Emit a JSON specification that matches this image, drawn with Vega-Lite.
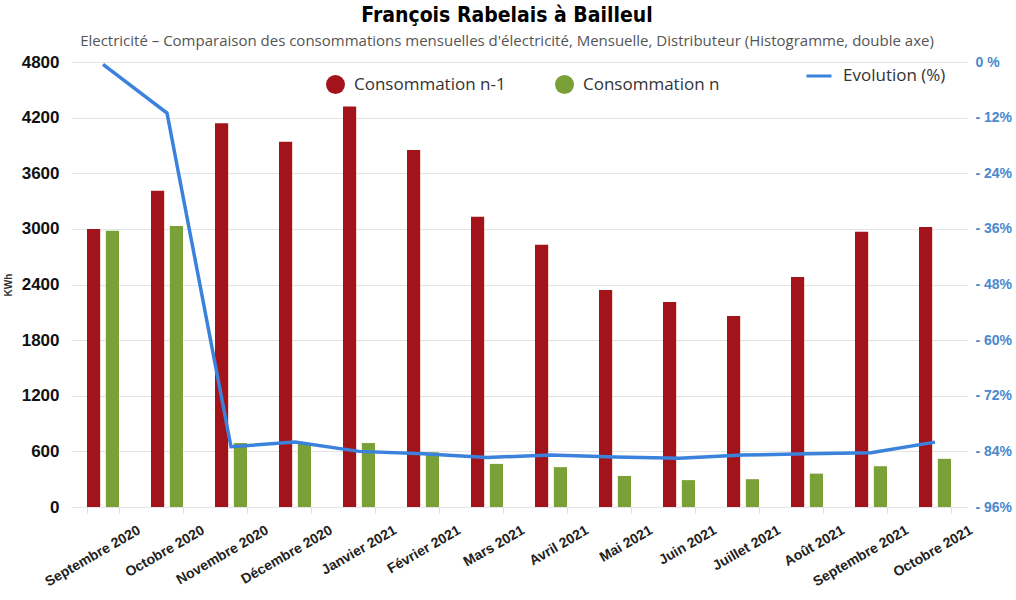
{
  "$schema": "https://vega.github.io/schema/vega-lite/v6.json",
  "width": 896,
  "height": 445,
  "autosize": "none",
  "padding": {"left": 71, "top": 62, "right": 49, "bottom": 93},
  "background": "white",
  "title": {
    "text": "François Rabelais à Bailleul",
    "subtitle": "Electricité – Comparaison des consommations mensuelles d'électricité, Mensuelle, Distributeur (Histogramme, double axe)",
    "anchor": "middle",
    "dx": -12,
    "font": "DejaVu Sans Condensed",
    "fontSize": 21,
    "fontWeight": "bold",
    "color": "#000000",
    "subtitleFont": "Open Sans",
    "subtitleFontSize": 15,
    "subtitleColor": "#555555",
    "subtitlePadding": 8,
    "offset": 4
  },
  "data": {
    "values": [
      {"mois": "Septembre 2020", "n1": 3000, "n": 2980, "evo": -0.5},
      {"mois": "Octobre 2020", "n1": 3410, "n": 3030, "evo": -11},
      {"mois": "Novembre 2020", "n1": 4140, "n": 690, "evo": -83},
      {"mois": "Décembre 2020", "n1": 3940, "n": 680, "evo": -82},
      {"mois": "Janvier 2021", "n1": 4320, "n": 690, "evo": -84},
      {"mois": "Février 2021", "n1": 3850, "n": 590, "evo": -84.5},
      {"mois": "Mars 2021", "n1": 3130, "n": 465, "evo": -85.3},
      {"mois": "Avril 2021", "n1": 2830, "n": 430, "evo": -84.8},
      {"mois": "Mai 2021", "n1": 2340, "n": 335, "evo": -85.2},
      {"mois": "Juin 2021", "n1": 2210, "n": 290, "evo": -85.5},
      {"mois": "Juillet 2021", "n1": 2060, "n": 300, "evo": -84.8},
      {"mois": "Août 2021", "n1": 2480, "n": 360, "evo": -84.5},
      {"mois": "Septembre 2021", "n1": 2970, "n": 440, "evo": -84.3},
      {"mois": "Octobre 2021", "n1": 3020, "n": 520, "evo": -82}
    ]
  },
  "config": {
    "view": {"stroke": null},
    "axis": {"gridColor": "#e4e4e4", "domain": false}
  },
  "encoding": {
    "x": {
      "field": "mois",
      "type": "nominal",
      "sort": null,
      "scale": {"paddingInner": 0.5, "paddingOuter": 0.25},
      "axis": {
        "title": null,
        "labelAngle": -30,
        "labelAlign": "right",
        "labelBaseline": "middle",
        "labelOffset": 36,
        "labelFont": "Liberation Sans",
        "labelFontSize": 14,
        "labelFontWeight": "bold",
        "labelColor": "#222222",
        "labelPadding": 16,
        "ticks": true,
        "tickColor": "#dddddd",
        "tickBand": "extent",
        "tickSize": 6,
        "grid": false
      }
    }
  },
  "layer": [
    {
      "transform": [{"fold": ["n1", "n"], "as": ["serie", "kwh"]}],
      "mark": {"type": "bar"},
      "encoding": {
        "xOffset": {"field": "serie", "sort": ["n1", "n"], "scale": {"paddingInner": 0.3}},
        "y": {
          "field": "kwh",
          "type": "quantitative",
          "scale": {"domain": [0, 4800]},
          "axis": {
            "title": "KWh",
            "titleFontSize": 10,
            "titleFont": "Liberation Sans",
            "titleFontWeight": "bold",
            "titleColor": "#333333",
            "titlePadding": 8,
            "format": "d",
            "values": [0, 600, 1200, 1800, 2400, 3000, 3600, 4200, 4800],
            "labelFont": "Liberation Sans",
            "labelFontSize": 17,
            "labelFontWeight": "bold",
            "labelColor": "#111111",
            "labelPadding": 12,
            "ticks": false,
            "grid": true
          }
        },
        "color": {
          "field": "serie",
          "type": "nominal",
          "scale": {"domain": ["n1", "n"], "range": ["#a3141a", "#7aa038"]},
          "legend": {
            "title": null,
            "orient": "none",
            "direction": "horizontal",
            "legendX": 254,
            "legendY": 12,
            "symbolType": "circle",
            "symbolSize": 361,
            "symbolOpacity": 1,
            "labelExpr": "datum.label == 'n1' ? 'Consommation n-1' : 'Consommation n'",
            "labelFont": "Open Sans",
            "labelFontSize": 17,
            "labelColor": "#333333",
            "labelOffset": 8,
            "columnPadding": 48
          }
        }
      }
    },
    {
      "mark": {"type": "line", "strokeWidth": 3.5},
      "encoding": {
        "y": {
          "field": "evo",
          "type": "quantitative",
          "scale": {"domain": [-96, 0]},
          "axis": {
            "orient": "right",
            "title": null,
            "values": [0, -12, -24, -36, -48, -60, -72, -84, -96],
            "labelExpr": "datum.value == 0 ? '0 %' : '- ' + abs(datum.value) + '%'",
            "labelFont": "Liberation Sans",
            "labelFontSize": 14,
            "labelFontWeight": "bold",
            "labelColor": "#4a88d0",
            "labelPadding": 8,
            "ticks": false,
            "grid": false
          }
        },
        "stroke": {
          "datum": "Evolution (%)",
          "scale": {"range": ["#3b82dc"]},
          "legend": {
            "title": null,
            "orient": "none",
            "legendX": 734,
            "legendY": 0,
            "symbolType": "stroke",
            "symbolSize": 625,
            "symbolStrokeWidth": 3,
            "labelFont": "Open Sans",
            "labelFontSize": 17,
            "labelColor": "#333333",
            "labelOffset": 10
          }
        }
      }
    }
  ],
  "resolve": {"scale": {"y": "independent"}}
}
